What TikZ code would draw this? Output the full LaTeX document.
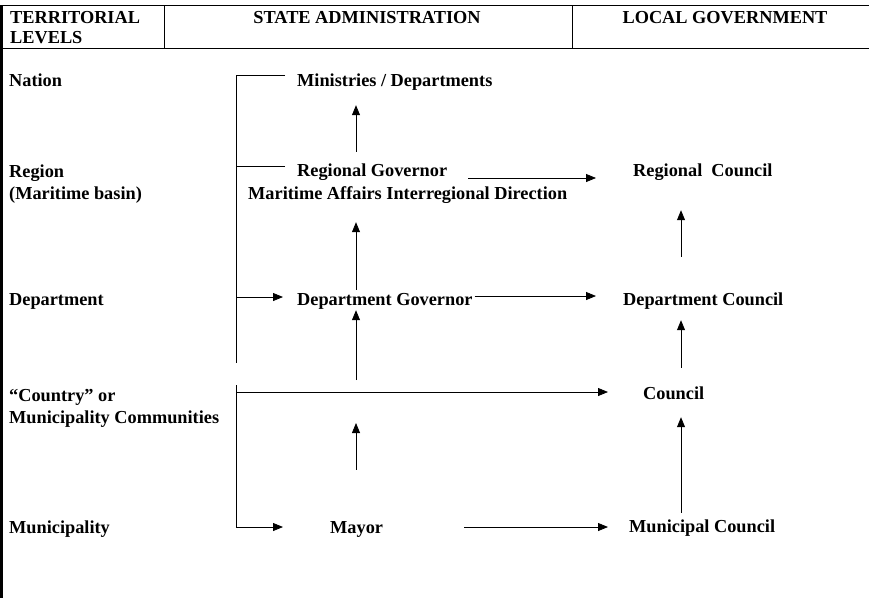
\documentclass[tikz,border=0pt]{standalone}
\usepackage{fontspec}
\setmainfont{Liberation Serif}
\usetikzlibrary{arrows.meta}

\begin{document}
\begin{tikzpicture}[x=1pt,y=-1pt,
  txt/.style={inner sep=0pt,text height=12pt,text depth=0pt,
    font=\fontsize{18.3}{21}\selectfont\bfseries},
  lnk/.style={line width=0.8pt},
  arr/.style={line width=0.8pt,-{Triangle[length=10pt,width=8pt]}}]
  \useasboundingbox (0,0) rectangle (869,598);
  % table frame and header
  \draw[line width=2.8pt] (1.4,5) -- (1.4,598);
  \draw[line width=1pt] (0,5) -- (869,5);
  \draw[line width=1pt] (0,48) -- (869,48);
  \draw[line width=1pt] (164,5) -- (164,48);
  \draw[line width=1pt] (572,5) -- (572,48);
  \node[txt,anchor=west] (terr) at (10,17) {TERRITORIAL};
  \node[txt,anchor=west] (levels) at (10,37) {LEVELS};
  \node[txt] (state) at (367,17) {STATE ADMINISTRATION};
  \node[txt] (local) at (725,17) {LOCAL GOVERNMENT};
  % territorial levels
  \node[txt,anchor=west] (nation) at (9,80) {Nation};
  \node[txt,anchor=west] (region) at (9,171) {Region};
  \node[txt,anchor=west] (regionb) at (9,193) {(Maritime basin)};
  \node[txt,anchor=west] (dept) at (9,299) {Department};
  \node[txt,anchor=west] (country) at (9,395) {“Country” or};
  \node[txt,anchor=west] (countryb) at (9,417) {Municipality Communities};
  \node[txt,anchor=west] (munic) at (9,527) {Municipality};
  % state administration
  \node[txt,anchor=west] (mini) at (297,80) {Ministries / Departments};
  \node[txt,anchor=west] (regov) at (297,170) {Regional Governor};
  \node[txt,anchor=west] (marit) at (248,193) {Maritime Affairs Interregional Direction};
  \node[txt,anchor=west] (degov) at (297,299) {Department Governor};
  \node[txt,anchor=west] (mayor) at (330,527) {Mayor};
  % local government
  \node[txt,anchor=west] (regco) at (633,170) {Regional\ \ Council};
  \node[txt,anchor=west] (deco) at (623,299) {Department Council};
  \node[txt,anchor=west] (council) at (643,393) {Council};
  \node[txt,anchor=west] (muco) at (629,526) {Municipal Council};
  % columns of the vertical arrows and the brackets
  \coordinate (cx) at (356,0);
  \coordinate (rx) at (681,0);
  \coordinate (bx) at (236,0);
  \coordinate (brend) at (236,363);
  \coordinate (brtop) at (236,385);
  % brackets
  \draw[lnk] ([xshift=-12pt,yshift=5pt]mini.west) -| (brend);
  \draw[lnk] ([xshift=-12pt,yshift=4pt]regov.west) -- ([yshift=4pt]regov.west -| bx);
  \draw[arr,shorten >=14pt] ([yshift=2pt]degov.west -| bx) -- ([yshift=2pt]degov.west);
  \draw[arr,shorten >=47pt] (brtop) |- (mayor.west);
  \draw[arr,shorten >=35pt] ([yshift=1pt]council.west -| bx) -- ([yshift=1pt]council.west);
  % upward arrows
  \draw[arr,shorten <=12pt,shorten >=19pt] (regov.north -| cx) -- (mini.south -| cx);
  \draw[arr,shorten <=3pt,shorten >=23pt] (degov.north -| cx) -- (marit.south -| cx);
  \draw[arr,shorten <=12pt,shorten >=5pt] ([yshift=1pt]council.west -| cx) -- (degov.south -| cx);
  \draw[arr,shorten <=51pt,shorten >=31pt] (mayor.north -| cx) -- ([yshift=1pt]council.west -| cx);
  \draw[arr,shorten <=36pt,shorten >=34pt] (deco.north -| rx) -- (regco.south -| rx);
  \draw[arr,shorten <=19pt,shorten >=15pt] (council.north -| rx) -- (deco.south -| rx);
  \draw[arr,shorten <=7pt,shorten >=18pt] (muco.north -| rx) -- (council.south -| rx);
  % state to local
  \draw[arr,shorten <=21pt,shorten >=37pt] ([yshift=-8pt]regov.east) -- ([yshift=-8pt]regov.east -| regco.west);
  \draw[arr,shorten <=2pt,shorten >=27pt] ([yshift=3pt]degov.east) -- ([yshift=3pt]degov.east -| deco.west);
  \draw[arr,shorten <=81pt,shorten >=21pt] (mayor.east) -- (mayor.east -| muco.west);
\end{tikzpicture}
\end{document}
